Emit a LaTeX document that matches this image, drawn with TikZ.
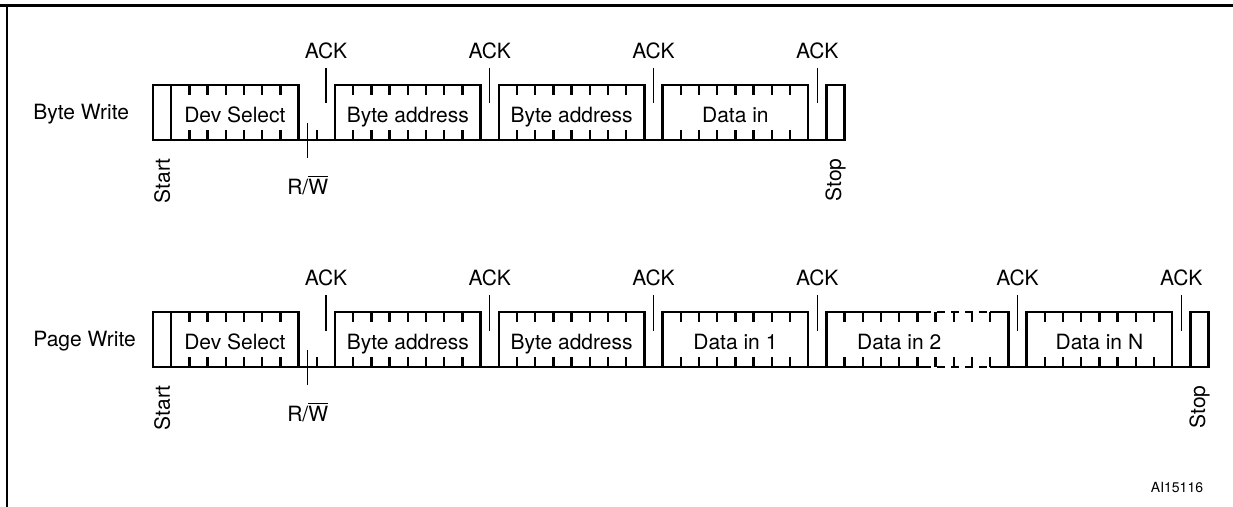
\documentclass[tikz,border=0pt]{standalone}
\usepackage{fontspec}
\setmainfont{TeX Gyre Heros}

\begin{document}
\begin{tikzpicture}[x=0.5pt,y=-0.5pt,line cap=butt,
    frame/.style={line width=1.5pt},
    field/.style={line width=1.25pt},
    ackline/.style={line width=.65pt},
    lbl/.style={font=\fontsize{10.5}{12}\selectfont,inner sep=0pt}]
    \useasboundingbox (0,0) rectangle (1233,507);

    % The frame round the figure.
    \draw[frame] (0,6) -- (1233,6);
    \draw[line width=1pt] (7,6) -- (7,507);

    \node[lbl,anchor=base west] (bytewrite) at (33,120) {Byte Write};
    \node[lbl,anchor=base west] (pagewrite) at (33,347) {Page Write};

    % Byte Write sequence, one x unit per bit.
    \begin{scope}[shift={(153,140)},x=9.1pt]
      \draw[field] (0,0) -- (38,0);
      \draw[field] (0,0) rectangle (1,-55);
      \draw[field] (37,0) rectangle (38,-55);
      \draw[field] (9,0) -- (9,-10);
      \foreach \a/\b/\txt/\nm in {1/8/Dev Select/dev,10/18/Byte address/adra,
          19/27/Byte address/adrb,28/36/Data in/dat} {
        \draw[field] (\a,0) rectangle (\b,-55);
        \pgfmathtruncatemacro\first{\a+1}
        \pgfmathtruncatemacro\last{\b-1}
        \foreach \k in {\first,...,\last} {
          \draw[field] (\k,-55) -- (\k,-45) (\k,0) -- (\k,-10);
        }
        \node[lbl,anchor=base] (bw-\nm) at ({(\a+\b)/2},-17) {\txt};
      }
      \foreach \x [count=\i] in {9.5,18.5,27.5,36.5} {
        \node[lbl,anchor=base] (bw-ack\i) at (\x,-81) {ACK};
        \draw[ackline] (\x,-72) -- (\x,-37);
      }
      \draw[ackline] (8.5,-17) -- (8.5,18);
      \node[lbl,anchor=base] (bw-rw) at (8.5,55) {R/$\overline{\mbox{W}}$};
      \node[lbl,rotate=90,anchor=east] (bw-start) at (0.5,18) {Start};
      \node[lbl,rotate=90,anchor=east] (bw-stop) at (37.5,18) {Stop};
    \end{scope}

    % Page Write sequence, with the dashed run inside Data in 2.
    \begin{scope}[shift={(153,367)},x=9.1pt]
      \draw[field] (0,0) -- (42.3,0) (46,0) -- (58,0);
      \draw[field,dash pattern=on 4pt off 3pt] (42.3,0) -- (46,0);
      \draw[field] (0,0) rectangle (1,-55);
      \draw[field] (57,0) rectangle (58,-55);
      \draw[field] (9,0) -- (9,-10);
      \foreach \a/\b/\txt/\nm in {1/8/Dev Select/dev,10/18/Byte address/adra,
          19/27/Byte address/adrb,28/36/Data in 1/data,48/56/Data in N/datn} {
        \draw[field] (\a,0) rectangle (\b,-55);
        \pgfmathtruncatemacro\first{\a+1}
        \pgfmathtruncatemacro\last{\b-1}
        \foreach \k in {\first,...,\last} {
          \draw[field] (\k,-55) -- (\k,-45) (\k,0) -- (\k,-10);
        }
        \node[lbl,anchor=base] (pw-\nm) at ({(\a+\b)/2},-17) {\txt};
      }
      \draw[field] (37,0) -- (37,-55) -- (42.3,-55) (46,-55) -- (47,-55) -- (47,0);
      \draw[field,dash pattern=on 4pt off 3pt] (42.3,-55) -- (46,-55);
      \foreach \k in {38,...,46} {
        \draw[field] (\k,-55) -- (\k,-45) (\k,0) -- (\k,-10);
      }
      \node[lbl,anchor=base] (pw-datb) at (41,-17) {Data in 2};
      \foreach \x [count=\i] in {9.5,18.5,27.5,36.5,47.5,56.5} {
        \node[lbl,anchor=base] (pw-ack\i) at (\x,-81) {ACK};
        \draw[ackline] (\x,-72) -- (\x,-36);
      }
      \draw[ackline] (8.5,-17) -- (8.5,18);
      \node[lbl,anchor=base] (pw-rw) at (8.5,55) {R/$\overline{\mbox{W}}$};
      \node[lbl,rotate=90,anchor=east] (pw-start) at (0.5,18) {Start};
      \node[lbl,rotate=90,anchor=east] (pw-stop) at (57.5,18) {Stop};
    \end{scope}

    \node[font=\fontsize{7}{8}\selectfont,inner sep=0pt] (fignum) at (1177,488) {AI15116};
  \end{tikzpicture}
\end{document}
